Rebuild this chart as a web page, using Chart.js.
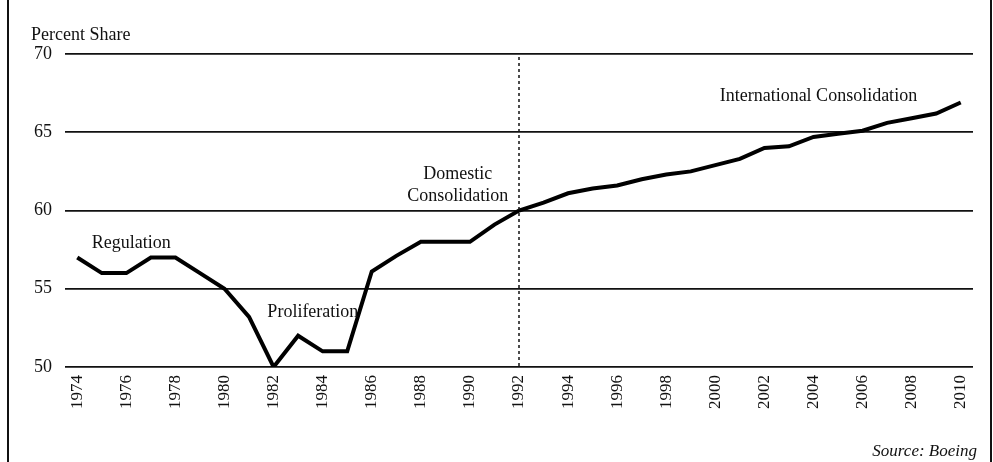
<!DOCTYPE html>
<html>
<head>
<meta charset="utf-8">
<script src="https://cdn.jsdelivr.net/npm/chart.js@4/dist/chart.umd.min.js"></script>
<style>
    html, body { margin: 0; padding: 0; background: #fff; }
    #wrap { width: 993px; height: 462px; position: relative; }
</style>
</head>
<body>
<div id="wrap"><canvas id="shareChart"></canvas></div>
<script>
// Jahre (Kategorien)
const years = ["1974", "1975", "1976", "1977", "1978", "1979", "1980", "1981", "1982", "1983",
    "1984", "1985", "1986", "1987", "1988", "1989", "1990", "1991", "1992", "1993",
    "1994", "1995", "1996", "1997", "1998", "1999", "2000", "2001", "2002", "2003",
    "2004", "2005", "2006", "2007", "2008", "2009", "2010"];

// Marktanteil in Prozent
const percentShare = [57, 56, 56, 57, 57, 56, 55, 53.2, 50, 52,
    51, 51, 56.1, 57.1, 58, 58, 58, 59.1, 60, 60.5,
    61.1, 61.4, 61.6, 62, 62.3, 62.5, 62.9, 63.3, 64, 64.1,
    64.7, 64.9, 65.1, 65.6, 65.9, 66.2, 66.9];

// Beschriftete Jahre auf der x-Achse
const tickYears = ["1974", "1976", "1978", "1980", "1982", "1984", "1986", "1988", "1990", "1992",
    "1994", "1996", "1998", "2000", "2002", "2004", "2006", "2008", "2010"];

// Phasen (Text, Jahr, Wert)
const phaseLabels = [["Regulation"], ["Proliferation"], ["Domestic", "Consolidation"], ["International Consolidation"]];
const phaseYears = ["1976.2", "1983.6", "1989.5", "2004.2"];
const phaseValues = [57.9, 53.5, 61.6, 67.3];

const dividerYear = "1992";

const serif = "'Liberation Serif', 'DejaVu Serif', serif";

/*
Zeichnet Rahmen, Texte und die gestrichelte Linie.
 */
const extrasPlugin = {
    id: "extras",
    afterDraw(chart) {
        const ctx = chart.ctx;
        const area = chart.chartArea;
        const x = chart.scales.x;
        const y = chart.scales.y;
        ctx.save();

        // Rahmen links und rechts
        ctx.strokeStyle = "#111";
        ctx.lineWidth = 2;
        ctx.beginPath();
        ctx.moveTo(8, 0);
        ctx.lineTo(8, chart.height);
        ctx.moveTo(991, 0);
        ctx.lineTo(991, chart.height);
        ctx.stroke();

        // gestrichelte Linie bei 1992
        const xd = x.getPixelForValue(years.indexOf(dividerYear));
        ctx.lineWidth = 1.5;
        ctx.setLineDash([3, 3]);
        ctx.beginPath();
        ctx.moveTo(xd, area.top + 3);
        ctx.lineTo(xd, area.bottom);
        ctx.stroke();
        ctx.setLineDash([]);

        ctx.fillStyle = "#111";
        ctx.font = "18px " + serif;
        ctx.textAlign = "left";
        ctx.textBaseline = "middle";
        ctx.fillText("Percent Share", 31, 35);

        // Phasen-Texte
        ctx.textAlign = "center";
        phaseLabels.forEach((lines, i) => {
            const yr = parseFloat(phaseYears[i]);
            const px = x.getPixelForValue(0) + (yr - 1974) * (x.getPixelForValue(1) - x.getPixelForValue(0));
            const py = y.getPixelForValue(phaseValues[i]);
            lines.forEach((line, j) => {
                ctx.fillText(line, px, py + (j - (lines.length - 1) / 2) * 22);
            });
        });

        ctx.font = "italic 17px " + serif;
        ctx.textAlign = "right";
        ctx.fillText("Source: Boeing", 977, 452);
        ctx.restore();
    }
};

const ctx = document.getElementById("shareChart");
const shareChart = new Chart(ctx, {
    type: "line",
    data: {
        labels: years,
        datasets: [{
            data: percentShare,
            borderColor: "#000",
            borderWidth: 4,
            pointRadius: 0,
            tension: 0,
            fill: false,
        }],
    },
    options: {
        responsive: true,
        maintainAspectRatio: false,
        animation: false,
        layout: {
            padding: { top: 54, right: 20, left: 0, bottom: 0 }
        },
        plugins: {
            legend: { display: false },
            tooltip: { enabled: false },
        },
        scales: {
            x: {
                offset: true,
                grid: { display: false, drawTicks: false },
                border: { display: false },
                afterFit: function (scale) { scale.height = 95; },
                ticks: {
                    autoSkip: false,
                    minRotation: 90,
                    maxRotation: 90,
                    padding: 8,
                    color: "#111",
                    font: { family: serif, size: 17 },
                    callback: function (value) {
                        const label = this.getLabelForValue(value);
                        return tickYears.includes(label) ? label : "";
                    },
                },
            },
            y: {
                min: 50,
                max: 70,
                grid: { color: "#111", lineWidth: 1.8, drawTicks: false },
                border: { display: false },
                afterFit: function (scale) { scale.width = 65; },
                ticks: {
                    stepSize: 5,
                    padding: 13,
                    color: "#111",
                    font: { family: serif, size: 18 },
                },
            },
        },
    },
    plugins: [extrasPlugin],
});
</script>
</body>
</html>
